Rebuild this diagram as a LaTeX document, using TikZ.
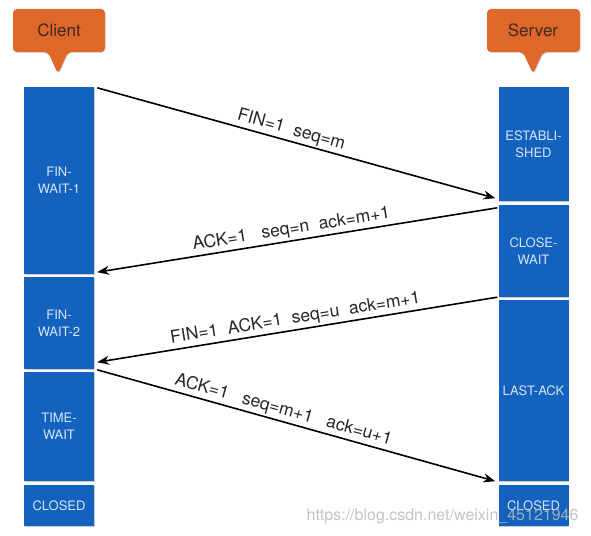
\documentclass[tikz,border=0pt]{standalone}
\usepackage{fontspec}
\setmainfont{TeX Gyre Heros}
\usetikzlibrary{arrows.meta,calc,shadows}
\definecolor{blk}{HTML}{1262BE}
\definecolor{blktxt}{HTML}{D8E4F4}
\definecolor{orng}{HTML}{E0672A}
\definecolor{calltxt}{HTML}{3A2A20}
\begin{document}
\begin{tikzpicture}[x=1pt,y=-1pt,
  block/.style={fill=blk, draw=none, minimum width=70pt, inner sep=0pt, align=center,
    text=blktxt, font=\fontsize{13}{17}\selectfont,
    drop shadow={shadow xshift=0.8pt, shadow yshift=-1.2pt, opacity=0.35, fill=black!60}},
  msg/.style={line width=1.6pt, -{Stealth[length=12pt,width=9pt]}},
  lbl/.style={sloped, above, font=\fontsize{17.5}{19}\selectfont, text=black!85, inner sep=2pt},
  calltext/.style={font=\fontsize{17}{19}\selectfont, text=calltxt}]
\useasboundingbox (0,0) rectangle (591,535);
% callouts
\fill[orng, rounded corners=4pt, drop shadow={shadow xshift=0.6pt, shadow yshift=-1pt, opacity=0.3}]
  (13,9) -- (105,9) -- (105,52) -- (68,52) -- (58,74) -- (48,52) -- (13,52) -- cycle;
\node[calltext] (client) at (59,30) {Client};
\fill[orng, rounded corners=4pt, drop shadow={shadow xshift=0.6pt, shadow yshift=-1pt, opacity=0.3}]
  (487,9) -- (580,9) -- (580,52) -- (543,52) -- (533,74) -- (523,52) -- (487,52) -- cycle;
\node[calltext] (server) at (533,30) {Server};
% client blocks
\node[block, minimum height=187pt] (fw1) at (59,180.5) {FIN-\\WAIT-1};
\node[block, minimum height=92pt] (fw2) at (59,323) {FIN-\\WAIT-2};
\node[block, minimum height=109pt] (tw) at (59,426.5) {TIME-\\WAIT};
\node[block, minimum height=41pt] (cc) at (59,505.5) {CLOSED};
% server blocks
\node[block, minimum height=114pt] (est) at (533.5,144) {ESTABLI-\\SHED};
\node[block, minimum height=92pt] (cw) at (533.5,251) {CLOSE-\\WAIT};
\node[block, minimum height=181pt] (la) at (533.5,390.5) {LAST-ACK};
\node[block, minimum height=41pt] (sc) at (533.5,505.5) {CLOSED};
% messages
\draw[msg] ($(fw1.north east)+(3,1)$) -- node[lbl, pos=0.48] {FIN=1\ \ seq=m} ($(est.south west)+(-3,-3)$);
\draw[msg] ($(cw.north west)+(-1,3)$) -- node[lbl, pos=0.51] {ACK=1\ \ \ seq=n\ \ ack=m+1} ($(fw1.south east)+(3,-2)$);
\draw[msg] ($(cw.south west)+(-1,0)$) -- node[lbl] {FIN=1\ \ ACK=1\ \ seq=u\ \ ack=m+1} ($(fw2.south east)+(3,-7)$);
\draw[msg] ($(tw.north east)+(3,-2)$) -- node[lbl, pos=0.46] {ACK=1\ \ \ seq=m+1\ \ \ ack=u+1} ($(la.south west)+(-3,0)$);
% watermark
\node[anchor=east, font=\fontsize{16}{18}\selectfont, text=gray!55, opacity=0.85] (wm) at (582,516) {https://blog.csdn.net/weixin\_45121946};
\end{tikzpicture}
\end{document}
